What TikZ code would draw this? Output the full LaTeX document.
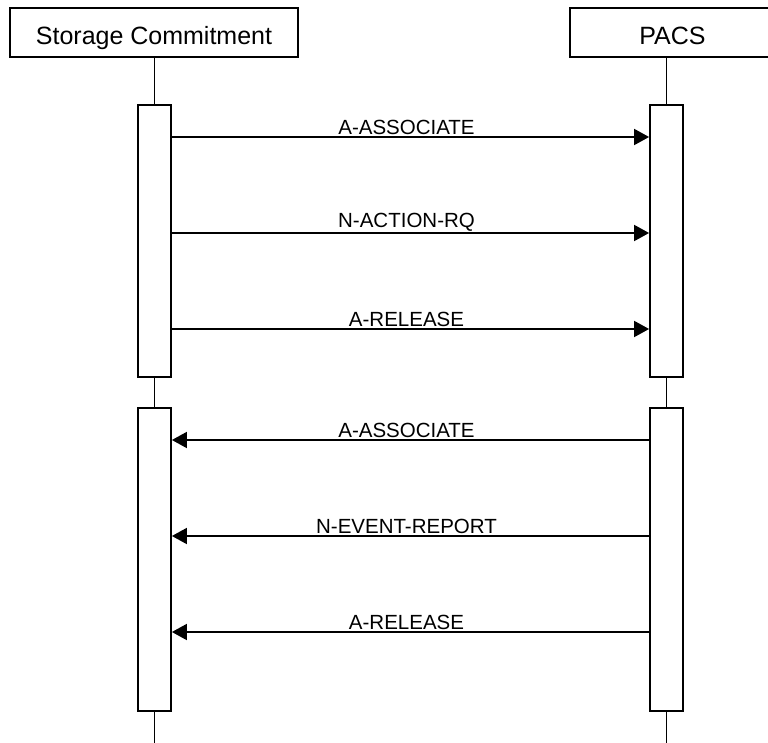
\documentclass[tikz,border=0pt]{standalone}
\usepackage{fontspec}
\setmainfont{Liberation Sans}
\usetikzlibrary{arrows.meta}
\begin{document}
\begin{tikzpicture}[x=1pt,y=-1pt,
  actor/.style={draw,line width=1.8pt,minimum height=49pt,inner sep=0pt,text height=25pt,text depth=0pt,font=\fontsize{25}{28}\selectfont},
  bar/.style={draw,line width=1.8pt,fill=white,minimum width=33pt,inner sep=0pt},
  life/.style={line width=1.8pt},
  msg/.style={line width=1.8pt,-{Triangle[length=15pt,width=16pt]}},
  lbl/.style={midway,above,inner sep=1pt,xshift=-4pt,font=\fontsize{20.5}{24}\selectfont}]
\useasboundingbox (0,0) rectangle (768,743);
\fill[white] (0,0) rectangle (768,743);
\begin{scope}
\clip (0,0) rectangle (768,743);
\node[actor,minimum width=288pt] (sc) at (154,32.5) {Storage Commitment};
\node[actor,minimum width=205pt] (pacs) at (672.5,32.5) {PACS};
\end{scope}
% activation bars
\node[bar,minimum height=272pt] (lb1) at (154.5,241) {};
\node[bar,minimum height=303pt] (lb2) at (154.5,559.5) {};
\node[bar,minimum height=272pt] (rb1) at (666.5,241) {};
\node[bar,minimum height=303pt] (rb2) at (666.5,559.5) {};
\coordinate (lend) at (154.5,743);
\coordinate (rend) at (666.5,743);
% lifelines
\draw[life] (sc.south -| lb1.north) -- (lb1.north);
\draw[life] (lb1.south) -- (lb2.north);
\draw[life] (lb2.south) -- (lend);
\draw[life] (pacs.south -| rb1.north) -- (rb1.north);
\draw[life] (rb1.south) -- (rb2.north);
\draw[life] (rb2.south) -- (rend);
% messages
\draw[msg] (lb1.east |- 0,137) -- node[lbl] {A-ASSOCIATE} (rb1.west |- 0,137);
\draw[msg] (lb1.east |- 0,233) -- node[lbl] {N-ACTION-RQ} (rb1.west |- 0,233);
\draw[msg] (lb1.east |- 0,329) -- node[lbl] {A-RELEASE} (rb1.west |- 0,329);
\draw[msg] (rb2.west |- 0,440) -- node[lbl] {A-ASSOCIATE} (lb2.east |- 0,440);
\draw[msg] (rb2.west |- 0,536) -- node[lbl] {N-EVENT-REPORT} (lb2.east |- 0,536);
\draw[msg] (rb2.west |- 0,632) -- node[lbl] {A-RELEASE} (lb2.east |- 0,632);
\end{tikzpicture}
\end{document}
